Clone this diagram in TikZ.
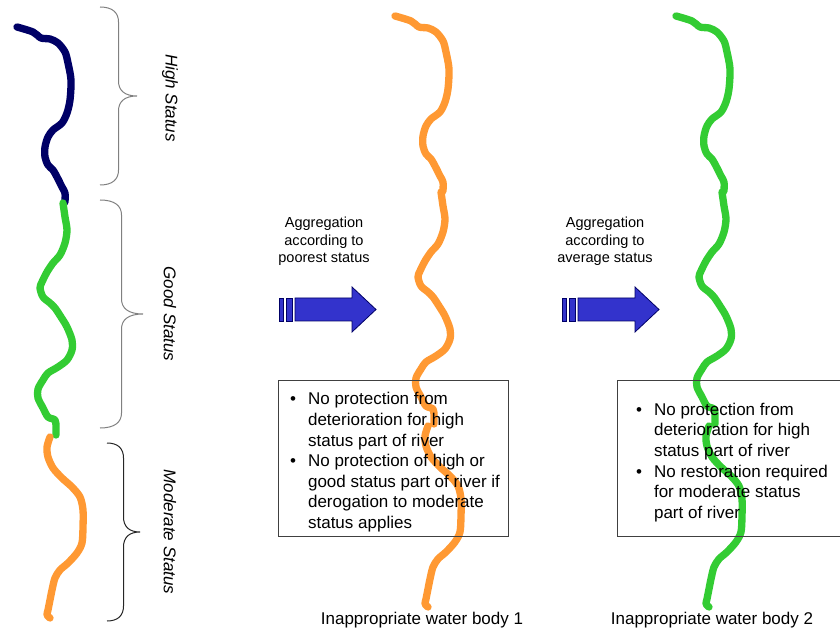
\documentclass[tikz,border=0pt]{standalone}
\usepackage{fontspec}
\setmainfont{Liberation Sans}

\definecolor{highblue}{RGB}{0,0,102}
\definecolor{goodgreen}{RGB}{51,204,51}
\definecolor{moderateorange}{RGB}{255,153,51}
\definecolor{aggblue}{RGB}{51,51,204}

% one river, cut into its three status reaches (pixel coordinates)
\newcommand\highreach{plot [smooth, tension=0.5] coordinates {(17,27) (33,32) (41,38) (50,39) (58,43) (65,52) (68,63) (71,80) (70,100) (67,113) (62,123) (53,130) (48,137) (45,147) (45,157) (48,165) (53,170) (57,177) (62,187) (65,193) (65,202)}}
\newcommand\goodreach{plot [smooth, tension=0.5] coordinates {(63,203) (65,217) (67,230) (65,243) (60,255) (53,263) (47,272) (42,282) (40,288) (43,297) (50,303) (55,308) (61,317) (67,327) (72,340) (72,350) (67,360) (58,367) (48,373) (43,380) (38,389) (38,398) (43,408) (48,417) (55,420) (56,427) (56,435)}}
\newcommand\moderatereach{plot [smooth, tension=0.5] coordinates {(50,437) (47,447) (48,457) (53,468) (62,478) (72,487) (80,497) (83,510) (83,527) (82,543) (77,553) (68,563) (60,570) (55,578) (52,590) (50,600) (48,610) (47,615) (50,618)}}

% end x, top y, bottom y, depth, colour
\newcommand\statusbrace[5]{%
  \draw[statusbrace, #5] (#1,#2)
    .. controls +(0.35*#4,0) and +(0,-9) .. (#1+0.5*#4,#2+15)
    -- (#1+0.5*#4,#2/2+#3/2-15)
    .. controls +(0,9) and +(-0.35*#4,0) .. (#1+#4,#2/2+#3/2)
    .. controls +(-0.35*#4,0) and +(0,-9) .. (#1+0.5*#4,#2/2+#3/2+15)
    -- (#1+0.5*#4,#3-15)
    .. controls +(0,9) and +(0.35*#4,0) .. (#1,#3);}

\newcommand\bul{\makebox[13.5pt][l]{\textbullet}}

\begin{document}
\begin{tikzpicture}[x=0.75pt, y=-0.75pt,
    river/.style={line width=5.5pt, line cap=round, line join=round},
    statusbrace/.style={line width=0.75pt},
    statuslabel/.style={rotate=-90, font=\fontsize{12.75}{15.45}\selectfont\itshape},
    aggtext/.style={align=center, font=\fontsize{10.9}{13.3}\selectfont},
    aggarrow/.style={draw=highblue, fill=aggblue, line width=0.6pt, line join=miter},
    infobox/.style={draw=black!75, line width=0.75pt, minimum width=172.5pt,
        minimum height=117pt, inner sep=0pt, font=\fontsize{12.75}{15.45}\selectfont},
    waterbody/.style={font=\fontsize{12.75}{15.45}\selectfont}]
    \useasboundingbox (0,0) rectangle (840,631);

    % the rivers
    \draw [river, highblue] \highreach;
    \draw [river, goodgreen] \goodreach;
    \draw [river, moderateorange] \moderatereach;
    \draw [river, moderateorange, shift={(378,-11)}] \highreach \goodreach \moderatereach;
    \draw [river, goodgreen, shift={(659,-11)}] \highreach \goodreach \moderatereach;

    % status braces and labels
    \statusbrace{100}{7}{185}{37}{black!50}
    \statusbrace{100}{200}{428}{43}{black!50}
    \statusbrace{107}{443}{621}{33}{black!85}
    \path (170, 98) node [statuslabel] (high) {High Status};
    \path (170,314) node [statuslabel] (good) {Good Status};
    \path (170,532) node [statuslabel] (moderate) {Moderate Status};

    % aggregation arrows
    \path (324,241.5) node [aggtext] (poorest) {Aggregation\\according to\\poorest status};
    \draw [aggarrow] (279,298) rectangle (283,321);
    \draw [aggarrow] (286,298) rectangle (292.5,321);
    \draw [aggarrow] (295,298) -- (352,298) -- (352,287) -- (376,309.5)
        -- (352,332) -- (352,321) -- (295,321) -- cycle;
    \path (605,241.5) node [aggtext] (average) {Aggregation\\according to\\average status};
    \draw [aggarrow] (562,298) rectangle (566,321);
    \draw [aggarrow] (569,298) rectangle (575.5,321);
    \draw [aggarrow] (578,298) -- (635,298) -- (635,287) -- (659,309.5)
        -- (635,332) -- (635,321) -- (578,321) -- cycle;

    % consequences
    \path (393,458) node [infobox] (poorestbox) {\begin{tabular}{@{\hspace{3pt}}l@{}l@{}}
        \noalign{\vspace{7pt}}
        \bul & No protection from\\
             & deterioration for high\\
             & status part of river\\
        \bul & No protection of high or\\
             & good status part of river if\\
             & derogation to moderate\\
             & status applies
    \end{tabular}};
    \path (732,458) node [infobox] (averagebox) {\begin{tabular}{@{}l@{}l@{}}
        \noalign{\vspace{7pt}}
        \bul & No protection from\\
             & deterioration for high\\
             & status part of river\\
        \bul & No restoration required\\
             & for moderate status\\
             & part of river
    \end{tabular}};

    \path (422,620) node [waterbody] (body1) {Inappropriate water body 1};
    \path (712,620) node [waterbody] (body2) {Inappropriate water body 2};
\end{tikzpicture}
\end{document}
